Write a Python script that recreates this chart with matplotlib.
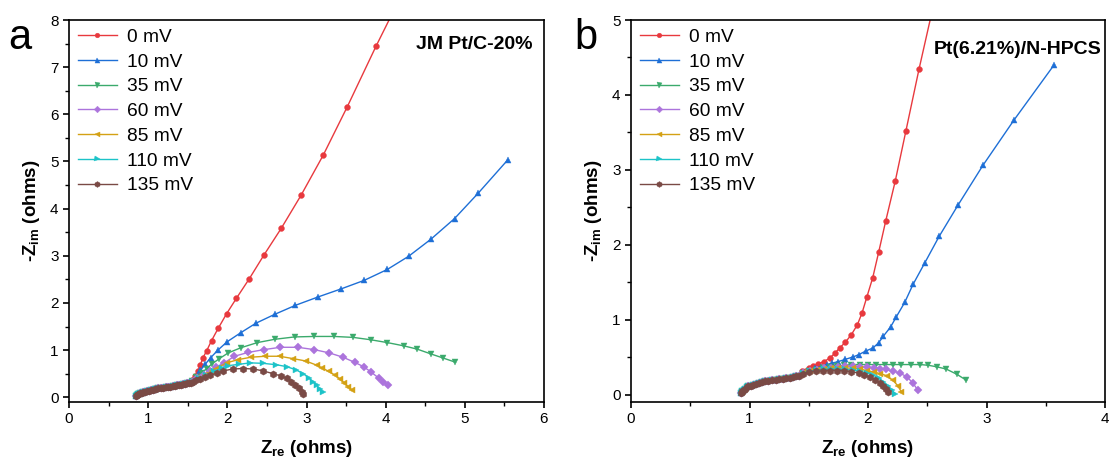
import matplotlib
matplotlib.use("Agg")
import matplotlib.pyplot as plt
from matplotlib.ticker import MultipleLocator

plt.rcParams['font.family'] = ['Liberation Sans', 'DejaVu Sans']
plt.rcParams['mathtext.fontset'] = 'custom'
plt.rcParams['mathtext.rm'] = 'Liberation Sans'
plt.rcParams['mathtext.bf'] = 'Liberation Sans:bold'
plt.rcParams['mathtext.it'] = 'Liberation Sans:italic'

labels = ['0 mV', '10 mV', '35 mV', '60 mV', '85 mV', '110 mV', '135 mV']
colors = ['#E8393E', '#1E6FD6', '#3BAA6C', '#AC74DC', '#D4A114', '#1CC3C8', '#7A4A45']
markers = ['o', '^', 'v', 'D', '<', '>', 'h']

# ---------- panel a: JM Pt/C-20% ----------
arc_a_x = [0.85, 0.86, 0.87, 0.885, 0.90, 0.92, 0.94, 0.96, 0.98, 1.005, 1.03, 1.055, 1.08, 1.105,
           1.13, 1.16, 1.19, 1.22, 1.25, 1.28, 1.31, 1.34, 1.37, 1.395, 1.42, 1.445, 1.47, 1.49, 1.51]
arc_a_y = [0.03, 0.045, 0.06, 0.075, 0.09, 0.10, 0.11, 0.12, 0.13, 0.14, 0.15, 0.16, 0.17, 0.18,
           0.19, 0.197, 0.205, 0.212, 0.22, 0.227, 0.235, 0.242, 0.25, 0.257, 0.265, 0.275, 0.285, 0.297, 0.31]

a0_x = [1.55, 1.59, 1.63, 1.66, 1.69, 1.74, 1.80, 1.884, 1.99, 2.115, 2.276, 2.46, 2.68, 2.93, 3.21, 3.515, 3.877, 4.31]
a0_y = [0.37, 0.45, 0.56, 0.69, 0.83, 0.99, 1.20, 1.46, 1.77, 2.10, 2.51, 3.01, 3.58, 4.28, 5.13, 6.16, 7.44, 8.9]

a10_x = [1.55, 1.60, 1.66, 1.72, 1.79, 1.88, 2.00, 2.17, 2.36, 2.60, 2.86, 3.15, 3.44, 3.73, 4.02, 4.29, 4.57, 4.87, 5.17, 5.54]
a10_y = [0.35, 0.44, 0.57, 0.70, 0.84, 1.00, 1.18, 1.37, 1.57, 1.76, 1.95, 2.13, 2.30, 2.48, 2.71, 2.99, 3.35, 3.79, 4.33, 5.03]

a35_x = [1.55, 1.61, 1.68, 1.74, 1.80, 1.90, 2.01, 2.17, 2.38, 2.60, 2.85, 3.10, 3.35, 3.59, 3.81, 4.02, 4.23, 4.40, 4.57, 4.73, 4.87]
a35_y = [0.34, 0.42, 0.52, 0.61, 0.70, 0.82, 0.94, 1.05, 1.16, 1.23, 1.28, 1.29, 1.29, 1.27, 1.22, 1.16, 1.09, 1.02, 0.92, 0.83, 0.75]

a60_x = [1.55, 1.62, 1.70, 1.78, 1.86, 1.96, 2.09, 2.26, 2.46, 2.67, 2.89, 3.10, 3.29, 3.46, 3.61, 3.72, 3.82, 3.91, 3.97, 4.03]
a60_y = [0.33, 0.40, 0.48, 0.56, 0.64, 0.73, 0.87, 0.95, 1.01, 1.06, 1.06, 1.01, 0.94, 0.85, 0.74, 0.65, 0.53, 0.41, 0.33, 0.26]

a85_x = [1.55, 1.63, 1.72, 1.80, 1.88, 1.99, 2.14, 2.30, 2.48, 2.66, 2.83, 2.99, 3.13, 3.20, 3.28, 3.36, 3.42, 3.48, 3.53, 3.57]
a85_y = [0.32, 0.39, 0.47, 0.55, 0.63, 0.73, 0.80, 0.85, 0.87, 0.87, 0.82, 0.77, 0.68, 0.62, 0.55, 0.47, 0.39, 0.30, 0.22, 0.16]

a110_x = [1.55, 1.64, 1.73, 1.83, 1.93, 2.01, 2.15, 2.29, 2.45, 2.62, 2.75, 2.87, 2.96, 3.03, 3.08, 3.13, 3.17, 3.21]
a110_y = [0.32, 0.40, 0.47, 0.55, 0.62, 0.67, 0.70, 0.73, 0.72, 0.69, 0.65, 0.58, 0.50, 0.41, 0.33, 0.25, 0.17, 0.11]

a135_x = [1.54, 1.57, 1.61, 1.65, 1.72, 1.78, 1.87, 1.95, 2.07, 2.20, 2.33, 2.45, 2.58, 2.68, 2.75, 2.81, 2.86, 2.90, 2.94, 2.96]
a135_y = [0.31, 0.33, 0.36, 0.39, 0.43, 0.47, 0.51, 0.56, 0.60, 0.61, 0.60, 0.56, 0.50, 0.45, 0.40, 0.33, 0.26, 0.19, 0.12, 0.08]

# ---------- panel b: Pt(6.21%)/N-HPCS ----------
arc_b_x = [0.93, 0.935, 0.94, 0.95, 0.96, 0.975, 0.99, 1.01, 1.03, 1.055, 1.08, 1.105, 1.13, 1.16,
           1.19, 1.22, 1.25, 1.28, 1.31, 1.34, 1.37, 1.395, 1.42]
arc_b_y = [0.02, 0.035, 0.05, 0.065, 0.08, 0.095, 0.11, 0.12, 0.13, 0.143, 0.155, 0.165, 0.175, 0.183,
           0.19, 0.197, 0.205, 0.212, 0.22, 0.227, 0.235, 0.242, 0.25]

b0_x = [1.44, 1.50, 1.54, 1.58, 1.63, 1.68, 1.72, 1.76, 1.81, 1.86, 1.91, 1.95, 1.99, 2.04, 2.09, 2.15, 2.23, 2.32, 2.43, 2.56]
b0_y = [0.32, 0.355, 0.38, 0.41, 0.44, 0.49, 0.55, 0.62, 0.70, 0.80, 0.93, 1.09, 1.30, 1.56, 1.90, 2.32, 2.85, 3.52, 4.34, 5.25]

b10_x = [1.45, 1.50, 1.55, 1.60, 1.65, 1.70, 1.75, 1.81, 1.87, 1.92, 1.98, 2.04, 2.09, 2.13, 2.19, 2.24, 2.31, 2.38, 2.48, 2.60, 2.76, 2.97, 3.23, 3.57]
b10_y = [0.30, 0.32, 0.35, 0.37, 0.40, 0.42, 0.44, 0.47, 0.50, 0.53, 0.58, 0.62, 0.69, 0.78, 0.90, 1.04, 1.23, 1.47, 1.76, 2.11, 2.53, 3.06, 3.66, 4.40]

b35_x = [1.45, 1.50, 1.56, 1.62, 1.68, 1.74, 1.80, 1.86, 1.93, 2.00, 2.07, 2.14, 2.21, 2.28, 2.36, 2.44, 2.51, 2.58, 2.66, 2.75, 2.83]
b35_y = [0.29, 0.31, 0.33, 0.35, 0.37, 0.38, 0.39, 0.40, 0.40, 0.40, 0.40, 0.40, 0.40, 0.40, 0.40, 0.40, 0.39, 0.37, 0.34, 0.27, 0.19]

b60_x = [1.45, 1.51, 1.57, 1.63, 1.69, 1.75, 1.81, 1.87, 1.93, 1.99, 2.05, 2.10, 2.15, 2.21, 2.27, 2.33, 2.38, 2.42]
b60_y = [0.29, 0.31, 0.33, 0.35, 0.36, 0.37, 0.375, 0.375, 0.37, 0.365, 0.355, 0.345, 0.335, 0.315, 0.285, 0.235, 0.15, 0.06]

b85_x = [1.45, 1.51, 1.57, 1.63, 1.69, 1.75, 1.81, 1.87, 1.93, 1.99, 2.05, 2.10, 2.16, 2.21, 2.25, 2.28]
b85_y = [0.29, 0.31, 0.33, 0.34, 0.35, 0.355, 0.355, 0.35, 0.34, 0.32, 0.30, 0.28, 0.25, 0.19, 0.12, 0.04]

b110_x = [1.45, 1.51, 1.57, 1.63, 1.69, 1.75, 1.81, 1.87, 1.93, 1.99, 2.04, 2.09, 2.13, 2.17, 2.20, 2.23]
b110_y = [0.29, 0.31, 0.325, 0.335, 0.34, 0.34, 0.335, 0.325, 0.31, 0.29, 0.26, 0.22, 0.17, 0.11, 0.06, 0.01]

b135_x = [1.45, 1.50, 1.56, 1.62, 1.68, 1.74, 1.80, 1.86, 1.92, 1.97, 2.02, 2.06, 2.10, 2.13, 2.15, 2.17]
b135_y = [0.28, 0.30, 0.31, 0.315, 0.32, 0.32, 0.315, 0.305, 0.285, 0.26, 0.23, 0.20, 0.16, 0.12, 0.08, 0.03]

series_a = [(a0_x, a0_y), (a10_x, a10_y), (a35_x, a35_y), (a60_x, a60_y),
            (a85_x, a85_y), (a110_x, a110_y), (a135_x, a135_y)]
series_b = [(b0_x, b0_y), (b10_x, b10_y), (b35_x, b35_y), (b60_x, b60_y),
            (b85_x, b85_y), (b110_x, b110_y), (b135_x, b135_y)]

fig = plt.figure(figsize=(11.13, 4.66), dpi=100)
ax1 = fig.add_axes([69/1113, 64/466, 475/1113, 382/466])
ax2 = fig.add_axes([631/1113, 64/466, 474/1113, 382/466])

msizes = [4.2, 4.5, 4.5, 4.2, 4.5, 4.5, 5.2]


def draw(ax, series, arc_x, arc_y, xlim, ylim, xmaj, ymaj, title, title_x, title_y, tsize, letter, letter_x):
    for i, (xs, ys) in enumerate(series):
        ax.plot(list(arc_x) + list(xs), list(arc_y) + list(ys), color=colors[i], marker=markers[i],
                markersize=msizes[i], linewidth=1.0, label=labels[i], markeredgewidth=0.3,
                clip_on=True, zorder=2 + i)
    ax.set_xlim(*xlim)
    ax.set_ylim(*ylim)
    ax.xaxis.set_major_locator(MultipleLocator(xmaj))
    ax.xaxis.set_minor_locator(MultipleLocator(xmaj / 2))
    ax.yaxis.set_major_locator(MultipleLocator(ymaj))
    ax.yaxis.set_minor_locator(MultipleLocator(ymaj / 2))
    ax.tick_params(which='major', direction='out', length=4.5, width=1.2, labelsize=11, pad=3,
                   top=False, right=False)
    ax.tick_params(which='minor', direction='out', length=2.8, width=1.0, top=False, right=False)
    for s in ax.spines.values():
        s.set_linewidth(1.2)
    ax.set_xlabel(r'$\mathbf{Z_{re}}$ (ohms)', fontsize=13.5, fontweight='bold', labelpad=8)
    ax.set_ylabel(r'-$\mathbf{Z_{im}}$ (ohms)', fontsize=13.5, fontweight='bold', labelpad=6)
    ax.legend(loc='upper left', bbox_to_anchor=(0.0, 1.0), frameon=False, fontsize=13.8,
              handlelength=2.05, handletextpad=0.55, labelspacing=0.38,
              borderaxespad=0.15, borderpad=0.3, markerscale=0.8)
    ax.text(title_x, title_y, title, transform=ax.transAxes, ha='right', va='center',
            fontsize=tsize, fontweight='bold')
    fig.text(letter_x, 1 - 38/466, letter, fontsize=30, ha='left', va='center')


draw(ax1, series_a, arc_a_x, arc_a_y, (0, 6), (-0.1, 8), 1, 1,
     'JM Pt/C-20%', 0.975, 0.935, 14, 'a', 8/1113)
draw(ax2, series_b, arc_b_x, arc_b_y, (0, 4), (-0.1, 5), 1, 1,
     'Pt(6.21%)/N-HPCS', 0.993, 0.922, 14, 'b', 574/1113)

fig.savefig('out.png', dpi=100)
